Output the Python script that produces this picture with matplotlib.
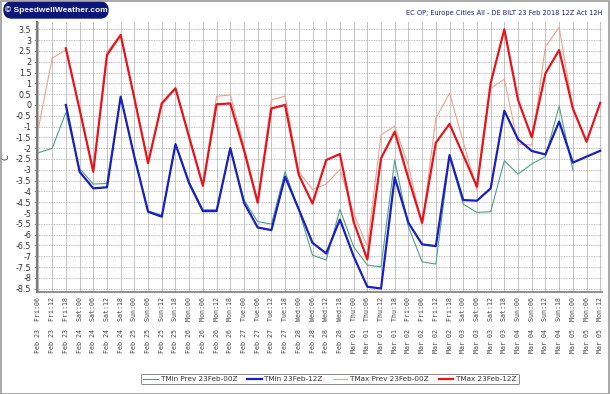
import numpy as np
import matplotlib
matplotlib.use("Agg")
import matplotlib.pyplot as plt
from matplotlib.patches import Rectangle, FancyBboxPatch

nan = np.nan

days = (["Feb 23 Fri"] * 3 + ["Feb 24 Sat"] * 4 + ["Feb 25 Sun"] * 4 + ["Feb 26 Mon"] * 4 +
        ["Feb 27 Tue"] * 4 + ["Feb 28 Wed"] * 4 + ["Mar 01 Thu"] * 4 + ["Mar 02 Fri"] * 4 +
        ["Mar 03 Sat"] * 4 + ["Mar 04 Sun"] * 4 + ["Mar 05 Mon"] * 3)
hours = ["06", "12", "18"] + ["00", "06", "12", "18"] * 9 + ["00", "06", "12"]
categories = [f"{d[:6]}  {d[7:]}:{h}" for d, h in zip(days, hours)]

tmin_prev = [-2.21, -2.01, -0.35, -2.94, -3.66, -3.63, 0.38, -2.4, -4.9, -5.1,
             -1.8, -3.55, -4.85, -4.85, -2.0, -4.4, -5.4, -5.51, -3.09, -4.86,
             -6.95, -7.18, -4.83, -6.56, -7.41, -7.49, -2.55, -5.64, -7.26, -7.36,
             -2.39, -4.59, -4.97, -4.94, -2.58, -3.20, -2.73, -2.39, -0.05, -3.01,
             nan, nan]
tmin_12z = [nan, nan, 0.0, -3.09, -3.86, -3.81, 0.38, -2.4, -4.94, -5.17,
            -1.81, -3.63, -4.91, -4.91, -2.0, -4.52, -5.67, -5.79, -3.32, -4.83,
            -6.38, -6.87, -5.30, -7.0, -8.41, -8.49, -3.35, -5.45, -6.45, -6.53,
            -2.32, -4.40, -4.43, -3.86, -0.27, -1.59, -2.13, -2.29, -0.77, -2.67,
            -2.39, -2.12]
tmax_prev = [-1.08, 2.16, 2.55, -0.2, -3.05, 2.45, 3.24, 0.35, -2.65, 0.12,
             0.8, -1.4, -3.7, 0.4, 0.46, -1.9, -4.45, 0.23, 0.41, -3.09,
             -3.91, -3.66, -2.98, -5.02, -6.56, -1.39, -0.98, -2.8, -5.6, -0.62,
             0.54, -1.7, -3.94, 0.77, 1.19, -1.81, -1.85, 2.70, 3.59, -0.16,
             nan, nan]
tmax_12z = [nan, nan, 2.62, -0.2, -3.09, 2.31, 3.24, 0.3, -2.7, 0.07,
            0.77, -1.5, -3.74, 0.03, 0.07, -2.1, -4.52, -0.16, 0.0, -3.24,
            -4.56, -2.55, -2.27, -5.4, -7.15, -2.47, -1.24, -3.4, -5.45, -1.75,
            -0.88, -2.32, -3.78, 1.0, 3.5, 0.23, -1.5, 1.46, 2.54, -0.16,
            -1.70, 0.1]

series_labels = ["TMin Prev 23Feb-00Z", "TMin 23Feb-12Z", "TMax Prev 23Feb-00Z", "TMax 23Feb-12Z"]
y_ticks = np.arange(-8.5, 3.51, 0.5)

W, H = 610, 394
fig = plt.figure(figsize=(W / 100, H / 100), dpi=100)
ax = fig.add_axes([0.0608, 0.2596, 0.9266, 0.6853])

x = np.arange(len(categories))
ax.plot(x, tmin_prev, color="#4f9e8c", lw=0.8, label=series_labels[0], zorder=3)
ax.plot(x, tmin_12z, color="#1a20bc", lw=1.6, label=series_labels[1], zorder=4)
ax.plot(x, tmax_prev, color="#f2a08e", lw=0.8, label=series_labels[2], zorder=3)
ax.plot(x, tmax_12z, color="#e8141c", lw=1.6, label=series_labels[3], zorder=5)

ax.set_xlim(-0.1, len(categories) - 1 + 0.15)
ax.set_ylim(-8.64, 3.85)
ax.set_yticks(y_ticks)
ax.set_yticklabels([f"{v:g}" for v in y_ticks], fontsize=5.8, color="#333333")
ax.set_xticks(x)
ax.set_xticklabels(categories, rotation=90, fontsize=4.8, family="DejaVu Sans Mono",
                   color="#444444")
ax.tick_params(axis="x", length=0, pad=4)
ax.tick_params(axis="y", length=2, width=0.6, color="#888888", pad=2)

ax.grid(axis="x", color="#c4c4c4", lw=0.7, ls="-")
ax.grid(axis="y", color="#a8a8a8", lw=0.6, ls=(0, (1, 1)))
ax.set_axisbelow(True)
for s in ["top", "right"]:
    ax.spines[s].set_visible(False)
ax.spines["left"].set_color("#7a7a7a")
ax.spines["left"].set_linewidth(1.6)
ax.spines["bottom"].set_color("#7a7a7a")
ax.spines["bottom"].set_linewidth(1.2)

ax.set_ylabel("C", fontsize=6, color="#333333", labelpad=4)

leg = fig.legend(loc="center", bbox_to_anchor=(0.541, 1 - 379 / H), ncol=4, fontsize=5.2,
                 frameon=True, fancybox=True, edgecolor="#555555", handlelength=2.0,
                 columnspacing=1.4, handletextpad=0.4, borderpad=0.3)
leg.get_frame().set_linewidth(0.6)
for t in leg.get_texts():
    t.set_color("#333333")

# logo box
fig.patches.append(FancyBboxPatch((4 / W, 1 - 18 / H), 104 / W, 16 / H,
                                  boxstyle="round,pad=0,rounding_size=0.013",
                                  transform=fig.transFigure, fc="#0b1677", ec="#0b1677",
                                  mutation_aspect=W / H))
fig.text(56 / W, 1 - 10 / H, "© SpeedwellWeather.com", fontsize=6.0, fontweight="bold",
         family="Liberation Sans", color="white", va="center", ha="center")
fig.text(0.988, 1 - 13 / H, "EC OP; Europe Cities All - DE BILT 23 Feb 2018 12Z Act 12H",
         fontsize=4.75, color="#1a237e", ha="right", va="center")

fig.patches.append(Rectangle((0.001, 0.001), 0.997, 0.997, transform=fig.transFigure,
                             fill=False, ec="#9a9a9a", lw=1.2))

fig.savefig("out.png", dpi=100)
